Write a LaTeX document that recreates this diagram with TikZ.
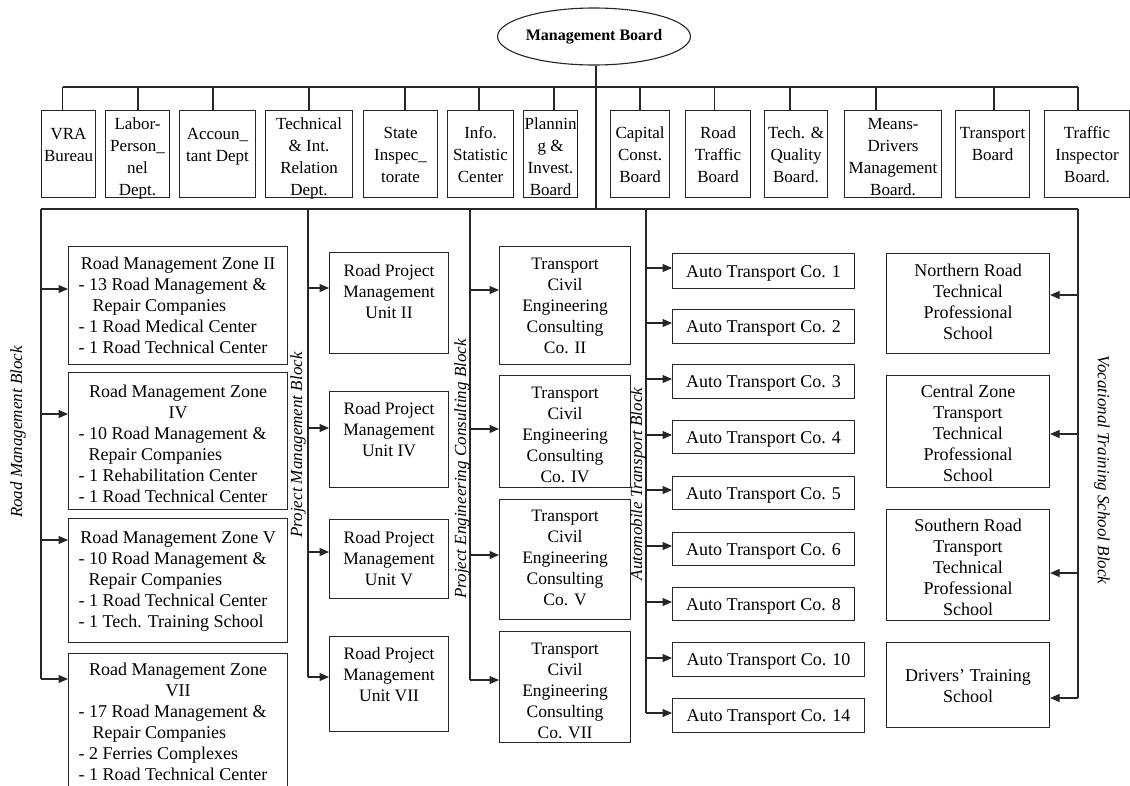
\documentclass[tikz,border=0pt]{standalone}
\usepackage{fontspec}
\setmainfont{Liberation Serif}
\usetikzlibrary{arrows.meta,shapes.geometric}

% A framed unit: name, left, top, right, bottom, first baseline below top, lines
\newcommand{\unitbox}[8][]{%
  \node[orgbox,#1] (#2) at (#3,#4)
    {\parbox[c][\dimexpr#6pt-#4pt\relax][t]{\dimexpr#5pt-#3pt\relax}{%
      \vspace*{\dimexpr#7pt-\ht\strutbox\relax}\centering\strut#8}};}
% left-aligned item line inside a zone box
\newcommand{\li}[1]{\makebox[199pt][l]{#1}}

\tikzset{
  wire/.style={line width=1.1pt, draw=black!85},
  arr/.style={wire, -{Triangle[length=9.5pt,width=8pt]}},
  orgbox/.style={draw=black!85, line width=1.1pt, inner sep=0pt, anchor=north west},
  topfont/.style={font=\fontsize{17}{22}\selectfont},
  lowfont/.style={font=\fontsize{18}{21}\selectfont},
  midfont/.style={font=\fontsize{17.5}{21}\selectfont},
  blocklabel/.style={font=\itshape\fontsize{17}{20}\selectfont, inner sep=0pt},
}

\begin{document}
\begin{tikzpicture}[x=1pt,y=-1pt]
\useasboundingbox (0,0) rectangle (1130,785);
\clip (0,0) rectangle (1130,785);
\fill[white] (0,0) rectangle (1130,785);

% ---------- head ----------
\node[ellipse, draw=black!85, line width=1.1pt, minimum width=182pt, minimum height=57pt,
      inner sep=0pt, font=\bfseries\fontsize{16}{18}\selectfont] (mb) at (594,36.5) {Management Board};

% ---------- departments ----------
\unitbox[topfont]{vra}{41}{110}{95}{197}{28.5}{VRA\\Bureau}
\unitbox[topfont]{labor}{105}{110}{169}{197}{18.5}{Labor-\\Person\_\\nel\\Dept.}
\unitbox[topfont]{acct}{179}{110}{255}{197}{28.5}{Accoun\_\\tant Dept}
\unitbox[topfont]{techrel}{265}{110}{352}{197}{18.5}{Technical\\\& Int.\\Relation\\Dept.}
\unitbox[topfont]{state}{363}{110}{437}{197}{27.5}{State\\Inspec\_\\torate}
\unitbox[topfont]{info}{447}{110}{513}{197}{27.5}{Info.\\Statistic\\Center}
\unitbox[topfont]{plan}{523}{110}{577}{197}{18.5}{Plannin\\g \&\\Invest.\\Board}
\unitbox[topfont]{capital}{610}{110}{669}{197}{27.5}{Capital\\Const.\\Board}
\unitbox[topfont]{rtraffic}{685}{110}{750}{197}{27.5}{Road\\Traffic\\Board}
\unitbox[topfont]{quality}{764}{110}{827}{197}{27.5}{Tech. \&\\Quality\\Board.}
\unitbox[topfont]{means}{844}{110}{941}{197}{18.5}{Means-\\Drivers\\Management\\Board.}
\unitbox[topfont]{transport}{955}{110}{1029}{197}{27.5}{Transport\\Board}
\unitbox[topfont]{tinsp}{1044}{110}{1129}{197}{27.5}{Traffic\\Inspector\\Board.}

% upper bus and stubs
\coordinate (tbL) at (62.5,87);
\coordinate (tbR) at (1078,87);
\draw[wire] (tbL) -- (tbR);
\foreach \x/\b in {62.5/vra, 138/labor, 213/acct, 309/techrel, 405/state, 479/info,
                   554/plan, 640/capital, 714.5/rtraffic, 790/quality, 876/means,
                   994/transport, 1078/tinsp}
  { \coordinate (s-\b) at (\x,87); \draw[wire] (s-\b) -- (s-\b |- \b.north); }

% lower bus
\coordinate (bL) at (41,209);
\coordinate (bR) at (1078,209);
\coordinate (stem) at (596,209);
\draw[wire] (mb.south -| stem) -- (stem);
\draw[wire] (bL) -- (bR);

% ---------- road management block ----------
\unitbox[lowfont]{rz2}{68}{246}{287}{364}{22.5}{Road Management Zone II\\
  \li{- 13 Road Management \&}\\\li{\hspace*{14pt}Repair Companies}\\
  \li{- 1 Road Medical Center}\\\li{- 1 Road Technical Center}}
\unitbox[lowfont]{rz4}{68}{372}{287}{509}{24.5}{Road Management Zone\\IV\\
  \li{- 10 Road Management \&}\\\li{\hspace*{10pt}Repair Companies}\\
  \li{- 1 Rehabilitation Center}\\\li{- 1 Road Technical Center}}
\unitbox[lowfont]{rz5}{68}{518}{287}{642}{24.5}{Road Management Zone V\\
  \li{- 10 Road Management \&}\\\li{\hspace*{10pt}Repair Companies}\\
  \li{- 1 Road Technical Center}\\\li{- 1 Tech. Training School}}
\unitbox[lowfont]{rz7}{68}{653}{287}{795}{21.5}{Road Management Zone\\VII\\
  \li{- 17 Road Management \&}\\\li{\hspace*{14pt}Repair Companies}\\
  \li{- 2 Ferries Complexes}\\\li{- 1 Road Technical Center}}

\coordinate (rmEnd) at (41,679);
\draw[wire] (bL) -- (rmEnd);
\foreach \y/\b [count=\i] in {289/rz2, 414/rz4, 540/rz5, 679/rz7}
  { \coordinate (rm\i) at (41,\y); \draw[arr] (rm\i) -- (rm\i -| \b.west); }

% ---------- project management block ----------
\unitbox[midfont]{pu2}{329}{252}{448}{353}{24}{Road Project\\Management\\Unit II}
\unitbox[midfont]{pu4}{329}{391}{448}{487}{23}{Road Project\\Management\\Unit IV}
\unitbox[midfont]{pu5}{329}{519}{448}{598}{24}{Road Project\\Management\\Unit V}
\unitbox[midfont]{pu7}{329}{636}{448}{731}{23}{Road Project\\Management\\Unit VII}

\coordinate (pmTop) at (308,209);
\coordinate (pmEnd) at (308,677);
\draw[wire] (pmTop) -- (pmEnd);
\foreach \y/\b [count=\i] in {288/pu2, 428/pu4, 552/pu5, 677/pu7}
  { \coordinate (pm\i) at (308,\y); \draw[arr] (pm\i) -- (pm\i -| \b.west); }

% ---------- project engineering consulting block ----------
\unitbox[midfont]{cc2}{499}{246}{630}{364}{23}{Transport\\Civil\\Engineering\\Consulting\\Co. II}
\unitbox[midfont]{cc4}{499}{375}{630}{487}{23}{Transport\\Civil\\Engineering\\Consulting\\Co. IV}
\unitbox[midfont]{cc5}{499}{499}{630}{619}{22}{Transport\\Civil\\Engineering\\Consulting\\Co. V}
\unitbox[midfont]{cc7}{499}{631}{630}{742}{23}{Transport\\Civil\\Engineering\\Consulting\\Co. VII}

\coordinate (ceTop) at (470,209);
\coordinate (ceEnd) at (470,680);
\draw[wire] (ceTop) -- (ceEnd);
\foreach \y/\b [count=\i] in {290/cc2, 429/cc4, 555/cc5, 680/cc7}
  { \coordinate (ce\i) at (470,\y); \draw[arr] (ce\i) -- (ce\i -| \b.west); }

% ---------- automobile transport block ----------
\unitbox[lowfont]{at1}{672}{253}{854}{288}{23.5}{Auto Transport Co. 1}
\unitbox[lowfont]{at2}{672}{309}{854}{343}{23}{Auto Transport Co. 2}
\unitbox[lowfont]{at3}{672}{364}{854}{398}{23}{Auto Transport Co. 3}
\unitbox[lowfont]{at4}{672}{420}{854}{453}{23}{Auto Transport Co. 4}
\unitbox[lowfont]{at5}{672}{476}{854}{509}{23}{Auto Transport Co. 5}
\unitbox[lowfont]{at6}{672}{532}{854}{565}{23}{Auto Transport Co. 6}
\unitbox[lowfont]{at8}{672}{587}{854}{620}{23}{Auto Transport Co. 8}
\unitbox[lowfont]{at10}{672}{642}{864}{676}{23}{Auto Transport Co. 10}
\unitbox[lowfont]{at14}{672}{698}{864}{732}{23}{Auto Transport Co. 14}

\coordinate (atTop) at (646,209);
\coordinate (atEnd) at (646,713);
\draw[wire] (atTop) -- (atEnd);
\foreach \y/\b [count=\i] in {268/at1, 323/at2, 379/at3, 435/at4, 490/at5,
                              546/at6, 602/at8, 658/at10, 713/at14}
  { \coordinate (au\i) at (646,\y); \draw[arr] (au\i) -- (au\i -| \b.west); }

% ---------- vocational training school block ----------
\unitbox[lowfont]{vsN}{886}{253}{1049}{353}{23}{Northern Road\\Technical\\Professional\\School}
\unitbox[lowfont]{vsC}{886}{375}{1049}{487}{22}{Central Zone\\Transport\\Technical\\Professional\\School}
\unitbox[lowfont]{vsS}{886}{509}{1049}{620}{22}{Southern Road\\Transport\\Technical\\Professional\\School}
\unitbox[lowfont]{vsD}{886}{642}{1049}{727}{39}{Drivers' Training\\School}

\coordinate (vsEnd) at (1078,698);
\draw[wire] (bR) -- (vsEnd);
\foreach \y/\b [count=\i] in {295/vsN, 434/vsC, 573/vsS, 698/vsD}
  { \coordinate (vs\i) at (1078,\y); \draw[arr] (vs\i) -- (vs\i -| \b.east); }

% ---------- block captions ----------
\node[blocklabel, rotate=90] (capRM) at (18,432) {Road Management Block};
\node[blocklabel, rotate=90] (capPM) at (298,445) {Project Management Block};
\node[blocklabel, rotate=90] (capPE) at (462,469) {Project Engineering Consulting Block};
\node[blocklabel, rotate=90] (capAT) at (638,484) {Automobile Transport Block};
\node[blocklabel, rotate=-90] (capVS) at (1102,470) {Vocational Training School Block};
\end{tikzpicture}
\end{document}
